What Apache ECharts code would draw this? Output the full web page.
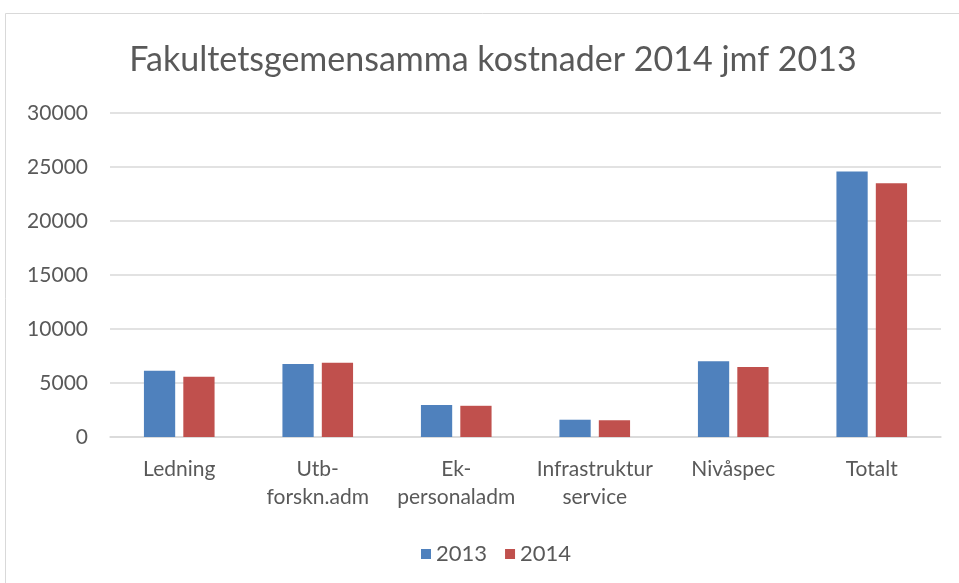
<!DOCTYPE html>
<html>
<head>
<meta charset="utf-8">
<script src="https://cdn.jsdelivr.net/npm/echarts@6/dist/echarts.min.js"></script>
<style>
  html, body { margin: 0; padding: 0; background: #fff; }
  #chart { width: 959px; height: 583px; }
</style>
</head>
<body>
<div id="chart"></div>
<script>
const categories = ["Ledning", "Utb-\nforskn.adm", "Ek-\npersonaladm", "Infrastruktur\nservice", "Nivåspec", "Totalt"];
const values2013 = [6130, 6750, 2960, 1600, 7020, 24580];
const values2014 = [5570, 6870, 2890, 1540, 6470, 23500];
const yTicks = { min: 0, max: 30000, interval: 5000 };

const textColor = "#595959";
const fontFamily = "Lato, 'Open Sans', sans-serif";

const myChart = echarts.init(document.getElementById("chart"));
const option = {
  animation: false,
  textStyle: { fontFamily: fontFamily },
  graphic: [
    {
      type: "rect",
      shape: { x: 5.5, y: 13.5, width: 1000, height: 1000 },
      style: { fill: "none", stroke: "#d9d9d9", lineWidth: 1 }
    }
  ],
  title: {
    text: "Fakultetsgemensamma kostnader 2014 jmf 2013",
    left: 488,
    textAlign: "center",
    top: 38,
    textStyle: {
      color: textColor,
      fontSize: 34,
      fontWeight: "normal",
      fontFamily: fontFamily
    }
  },
  legend: {
    data: ["2013", "2014"],
    left: 416,
    top: 538,
    itemWidth: 10,
    itemHeight: 10,
    itemGap: 18,
    icon: "rect",
    textStyle: { color: textColor, fontSize: 22, fontFamily: fontFamily }
  },
  grid: { left: 110, right: 18, top: 113, bottom: 146 },
  xAxis: {
    type: "category",
    data: categories,
    axisLine: { lineStyle: { color: "#d9d9d9", width: 1.5 } },
    axisTick: { show: false },
    axisLabel: {
      color: textColor,
      fontSize: 21,
      lineHeight: 28,
      margin: 18,
      interval: 0
    }
  },
  yAxis: {
    type: "value",
    min: yTicks.min,
    max: yTicks.max,
    interval: yTicks.interval,
    axisLine: { show: false },
    axisTick: { show: false },
    splitLine: { lineStyle: { color: "#d9d9d9", width: 1.5 } },
    axisLabel: {
      color: textColor,
      fontSize: 21,
      margin: 22,
      formatter: function (v) { return String(v); }
    }
  },
  series: [
    {
      name: "2013",
      type: "bar",
      data: values2013,
      barGap: "26%",
      barCategoryGap: "49%",
      itemStyle: { color: "#4f81bd" }
    },
    {
      name: "2014",
      type: "bar",
      data: values2014,
      itemStyle: { color: "#c0504d" }
    }
  ]
};
myChart.setOption(option);
</script>
</body>
</html>
